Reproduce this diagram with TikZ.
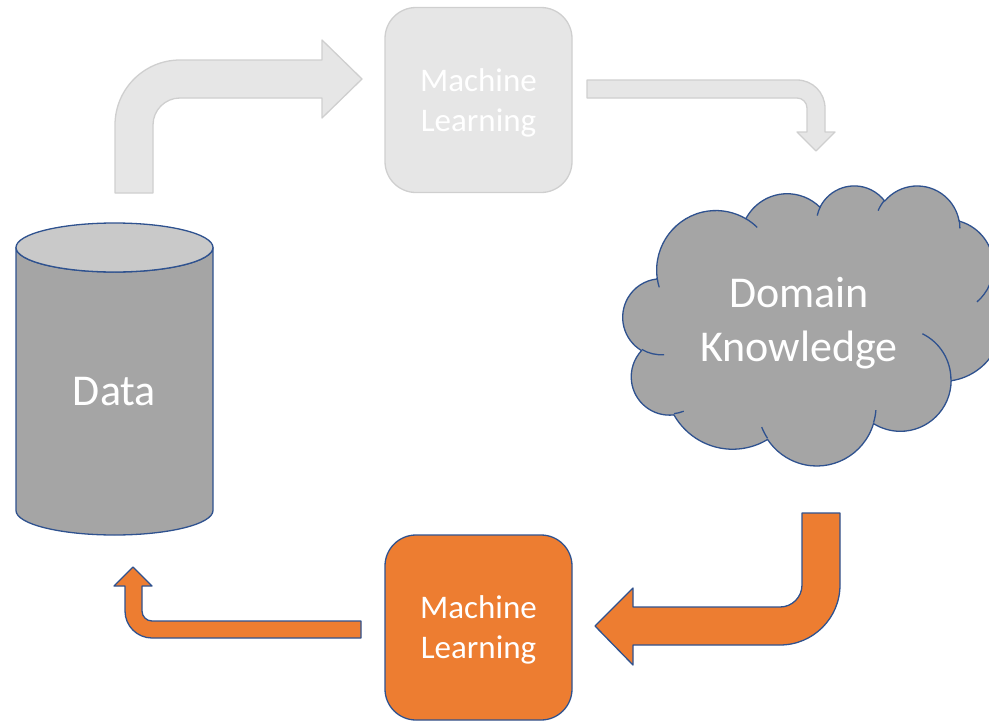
\documentclass[tikz,border=0pt]{standalone}
\usepackage{fontspec}
\setmainfont{Carlito}
\usetikzlibrary{positioning}

\definecolor{dbgray}{HTML}{A5A5A5}
\definecolor{dbtop}{HTML}{C9C9C9}
\definecolor{edgeblue}{HTML}{2F528F}
\definecolor{mlorange}{HTML}{ED7D31}
\definecolor{fadefill}{HTML}{E6E6E6}
\definecolor{fadeedge}{HTML}{CFCFCF}

\newcommand{\bigtxt}{\fontsize{44}{54}\selectfont}
\newcommand{\smalltxt}{\fontsize{33}{40}\selectfont}

\tikzset{
  solid edge/.style={draw=edgeblue, line width=1.3pt, line join=round},
  faded edge/.style={draw=fadeedge, line width=1.3pt, line join=round},
  mlbox/.style={rectangle, rounded corners=31pt, minimum width=187pt, minimum height=185pt,
    align=center, text=white, font=\smalltxt, text depth=0pt},
  lbl/.style={align=center, text=white, inner sep=0pt}
}

\begin{document}
\begin{tikzpicture}[x=1pt,y=-1pt]
\useasboundingbox (0,0) rectangle (989,723);

% Data store
\draw[solid edge, fill=dbgray] (16,247.5) -- (16,510.5)
  arc[start angle=180, end angle=0, x radius=98.5, y radius=24.5] -- (213,247.5)
  arc[start angle=0, end angle=180, x radius=98.5, y radius=24.5] -- cycle;
\draw[solid edge, fill=dbtop] (114.5,247.5) ellipse[x radius=98.5, y radius=24.5];
\node[lbl, font=\bigtxt] (data) at (114.5,392) {Data};

% Machine learning boxes
\node[mlbox, faded edge, fill=fadefill] (mltop) at (478.5,100) {Machine\\Learning};
\node[mlbox, solid edge, fill=mlorange] (mlbot) at (478.5,627.5) {Machine\\Learning};

% Cloud
\begin{scope}[xshift=623pt, yshift=-185pt, x=0.8773pt, y=-0.6481pt]
\draw[solid edge, fill=dbgray] (39.00,143.70)
  \foreach \wr/\hr/\st/\sw [evaluate=\st as \ta using {atan2(\wr*sin(\st),\hr*cos(\st))},
      evaluate=\sw as \td using {mod(atan2(\wr*sin(\st+\sw),\hr*cos(\st+\sw))-atan2(\wr*sin(\st),\hr*cos(\st))+720,360)-360*(\sw<0)}] in
  {67.53/91.90/-190.4875/123.7805, 53.33/72.67/-144.1024/89.9452,
   43.65/59.45/-145.8079/99.7230, 48.57/65.95/-130.9861/117.2417,
   53.33/72.73/-78.7089/109.0269, 67.75/92.20/-46.2673/130.2690,
   57.85/78.67/0.6250/114.0333, 67.52/92.15/22.4516/115.1726,
   77.20/105.43/66.2426/75.7110, 43.60/59.18/-274.9421/146.7356,
   43.45/59.45/-246.8285/152.5189}
  { arc[x radius=\wr, y radius=\hr, start angle=\ta, delta angle=\td] } -- cycle;
\draw[solid edge]
  \foreach \px/\py/\wr/\hr/\st/\sw [evaluate=\st as \ta using {atan2(\wr*sin(\st),\hr*cos(\st))},
      evaluate=\sw as \td using {mod(atan2(\wr*sin(\st+\sw),\hr*cos(\st+\sw))-atan2(\wr*sin(\st),\hr*cos(\st))+720,360)-360*(\sw<0)}] in
  {46.93/261.77/43.45/59.45/86.742/26.4295, 69.28/348.99/43.60/59.18/73.6105/11.4475,
   164.78/390.90/67.52/92.15/137.6242/14.0811, 288.27/347.51/67.52/92.15/6.4533/15.9984,
   341.29/229.54/57.85/78.67/-70.2924/70.9174, 417.98/153.54/53.33/72.73/30.3180/27.7515,
   383.24/54.26/48.57/65.95/-13.7443/14.8589, 290.78/39.52/48.57/65.95/-149.1815/18.1954,
   221.41/47.20/43.65/59.45/-163.4943/17.6864, 140.00/51.92/67.53/91.90/-66.7070/12.3194,
   41.27/157.89/67.53/91.90/157.6544/11.8582}
  { (\px,\py) arc[x radius=\wr, y radius=\hr, start angle=\ta, delta angle=\td] };
\end{scope}
\node[lbl, font=\bigtxt] (domain) at (799,323) {Domain\\Knowledge};

% Bent arrows
\draw[faded edge, fill=fadefill] (115,193) -- (115,125)
  arc[start angle=180, end angle=270, radius=65] -- (322,60) -- (322,40) -- (362,79)
  -- (322,118) -- (322,98) -- (180,98)
  arc[start angle=270, end angle=180, radius=27] -- (153,193) -- cycle;
\draw[faded edge, fill=fadefill] (587,80) -- (797,80)
  arc[start angle=270, end angle=360, radius=28] -- (825,132) -- (835,132) -- (816,151)
  -- (797,132) -- (807,132) -- (807,108)
  arc[start angle=360, end angle=270, radius=10] -- (587,98) -- cycle;
\draw[solid edge, fill=mlorange] (802,513) -- (840,513) -- (840,585)
  arc[start angle=0, end angle=90, radius=60] -- (633,645) -- (633,665) -- (595,626)
  -- (633,588) -- (633,607) -- (780,607)
  arc[start angle=90, end angle=0, radius=22] -- cycle;
\draw[solid edge, fill=mlorange] (361,638) -- (152,638)
  arc[start angle=90, end angle=180, radius=27] -- (125,586) -- (114,586) -- (133,567)
  -- (152,586) -- (142,586) -- (142,611)
  arc[start angle=180, end angle=90, radius=10] -- (361,621) -- cycle;
\end{tikzpicture}
\end{document}
